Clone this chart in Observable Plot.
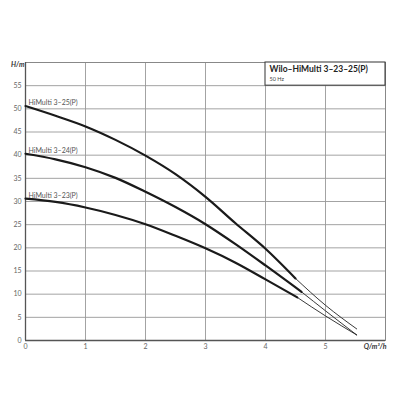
<!DOCTYPE html>
<html><head><meta charset="utf-8">
<script src="https://cdn.jsdelivr.net/npm/d3@7"></script>
<script src="https://cdn.jsdelivr.net/npm/@observablehq/plot@0.6"></script>
<style>body{margin:0;background:#fff} svg{display:block}</style>
</head><body><div id="chart"></div>
<script>
const title = "Wilo–HiMulti 3–23–25(P)";
const subtitle = "50 Hz";
const yLabel = "H/m";
const xLabel = "Q/m³/h";
const xTicks = [0, 1, 2, 3, 4, 5];
const xGrid = [0, 1, 2, 3, 4, 5, 6];
const yTicks = [0, 5, 10, 15, 20, 25, 30, 35, 40, 45, 50, 55];
const yGrid = [0, 5, 10, 15, 20, 25, 30, 35, 40, 45, 50, 55, 60];
const seriesNames = ["HiMulti 3–25(P)", "HiMulti 3–24(P)", "HiMulti 3–23(P)"];

// main (thick) curves
const q25 = [0, 0.5, 1, 1.5, 2, 2.5, 3, 3.5, 4, 4.5];
const h25 = [50.6, 48.5, 46.2, 43.3, 39.9, 35.9, 31.0, 25.3, 19.8, 13.4];
const q24 = [0, 0.5, 1, 1.5, 2, 2.5, 3, 3.5, 4, 4.6];
const h24 = [40.3, 39.1, 37.4, 35.1, 32.1, 28.8, 25.1, 20.8, 16.2, 10.5];
const q23 = [0, 0.5, 1, 1.5, 2, 2.5, 3, 3.5, 4, 4.53];
const h23 = [30.6, 29.9, 28.7, 27.1, 25.1, 22.6, 19.9, 16.8, 13.2, 9.3];
// thin extensions
const q25ext = [4.5, 5.0, 5.52];
const h25ext = [13.4, 7.6, 2.5];
const q24ext = [4.6, 5.0, 5.52];
const h24ext = [10.5, 6.4, 1.2];
const q23ext = [4.53, 5.0, 5.52];
const h23ext = [9.3, 5.3, 1.2];

const toRows = (name, qs, hs) => qs.map((q, i) => ({name, q, h: hs[i]}));
const thick = [
  ...toRows(seriesNames[0], q25, h25),
  ...toRows(seriesNames[1], q24, h24),
  ...toRows(seriesNames[2], q23, h23)
];
const thin = [
  ...toRows(seriesNames[0], q25ext, h25ext),
  ...toRows(seriesNames[1], q24ext, h24ext),
  ...toRows(seriesNames[2], q23ext, h23ext)
];
const starts = [
  {name: seriesNames[0], q: q25[0], h: h25[0]},
  {name: seriesNames[1], q: q24[0], h: h24[0]},
  {name: seriesNames[2], q: q23[0], h: h23[0]}
];

const chart = Plot.plot({
  width: 400,
  height: 400,
  marginLeft: 25,
  marginRight: 15,
  marginTop: 62,
  marginBottom: 60,
  style: {fontFamily: "Lato, 'Open Sans', sans-serif", fontSize: "7px", background: "#fff"},
  x: {domain: [0, 6], label: null},
  y: {domain: [0, 60], label: null},
  marks: [
    Plot.gridX(xGrid, {stroke: "#999", strokeOpacity: 1, strokeWidth: 0.9}),
    Plot.gridY(yGrid, {stroke: "#999", strokeOpacity: 1, strokeWidth: 0.9}),
    Plot.frame({stroke: "#888"}),
    Plot.ruleX([0], {stroke: "#555", strokeWidth: 1.3}),
    Plot.ruleY([0], {stroke: "#555", strokeWidth: 1.3}),
    Plot.axisX(xTicks, {tickSize: 0, tickPadding: 4, fill: "#666", fontSize: 7}),
    Plot.axisY(yTicks, {tickSize: 0, tickPadding: 4, fill: "#666", fontSize: 7}),
    Plot.rect([0], {x1: () => 4, x2: () => 6, y1: () => 55, y2: () => 60, fill: "#fff", stroke: "#333", strokeWidth: 1}),
    Plot.text([title], {x: () => 4, y: () => 60, text: d => d, textAnchor: "start", lineAnchor: "top", dx: 4, dy: 3.5, fontSize: 8.5, fontWeight: "bold", fill: "#222"}),
    Plot.text([subtitle], {x: () => 4, y: () => 60, text: d => d, textAnchor: "start", lineAnchor: "top", dx: 4, dy: 14.5, fontSize: 5.5, fill: "#444"}),
    Plot.line(thin, {x: "q", y: "h", z: "name", stroke: "#222", strokeWidth: 0.9, curve: "monotone-x"}),
    Plot.line(thick, {x: "q", y: "h", z: "name", stroke: "#1a1a1a", strokeWidth: 2.2, curve: "monotone-x"}),
    Plot.text(starts, {x: "q", y: "h", text: "name", textAnchor: "start", lineAnchor: "bottom", dx: 3, dy: -1, fontSize: 7, fill: "#555"}),
    Plot.text([yLabel], {frameAnchor: "top-left", text: d => d, textAnchor: "end", lineAnchor: "top", dx: -1, dy: 0, fontSize: 7, fontWeight: "bold", fontStyle: "italic", fill: "#333"}),
    Plot.text([xLabel], {frameAnchor: "bottom-right", text: d => d, textAnchor: "end", lineAnchor: "top", dx: 1, dy: 4, fontSize: 7, fontWeight: "bold", fontStyle: "italic", fill: "#333"})
  ]
});
document.getElementById("chart").appendChild(chart);
</script>
</body></html>
